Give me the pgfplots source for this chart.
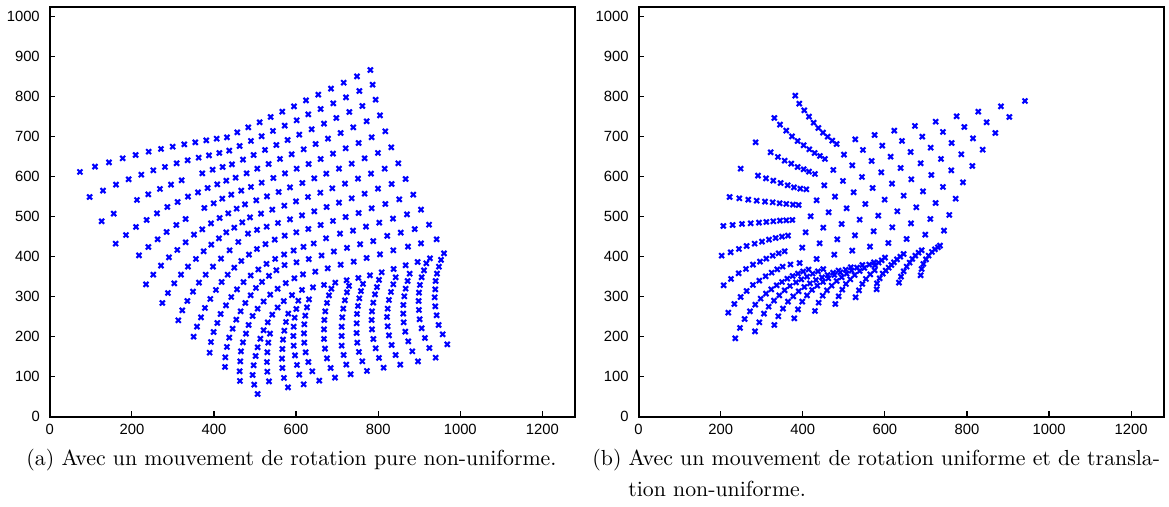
\documentclass[border=0pt]{standalone}
\usepackage{fontspec}
\setsansfont{Liberation Sans}
\usepackage{pgfplots}
\pgfplotsset{compat=1.18}
\pgfplotsset{
  panel/.style={
    scale only axis, width=262.7pt, height=204.8pt,
    xmin=0, xmax=1280, ymin=0, ymax=1024,
    xtick={0,200,...,1200}, ytick={0,100,...,1000},
    tick align=inside, tick pos=left,
    major tick length=2.6pt,
    axis line style={line width=1.1pt},
    every tick/.style={black, line width=0.6pt},
    ticklabel style={font=\sffamily\fontsize{7.4}{8}\selectfont},
    /pgf/number format/assume math mode=true,
    /pgf/number format/1000 sep={},
    yticklabel style={xshift=-1.5pt},
    clip=false,
  },
  pts/.style={only marks, mark=x, mark size=1.75pt, line width=1.05pt, color={rgb,1:red,0;green,0;blue,1}},
}
\begin{document}
\begin{tikzpicture}
\useasboundingbox (0,0) rectangle (584.5pt,253.5pt);
% ---------------- left panel ----------------
\begin{axis}[panel, at={(24.9pt,45.15pt)}, anchor=south west]
\addplot[pts] coordinates {
% R1
(73.5,611.8)(110.1,625.1)(144.2,635.9)(177.5,645.9)(209.1,654.3)(240.8,662.6)(270.9,669.3)(299.3,675.1)(327.7,680.9)(354.5,685.9)(381.3,690.9)(406.5,695.1)(431.6,698.4)(456.8,710.9)(483.6,723.4)(511.3,736.0)(538.1,749.3)(566.5,762.6)(594.9,775.9)(624.1,790.9)(654.2,805.1)(685.0,820.1)(715.9,835.1)(748.4,850.9)(780.9,866.7)
% R2
(97.1,549.3)(129.6,565.1)(161.2,580.1)(192.1,593.4)(223.0,605.1)(252.2,615.9)(280.6,624.3)(309.0,633.4)(335.8,640.9)(362.6,647.6)(387.8,653.4)(413.0,659.3)(437.3,665.1)(462.5,676.8)(490.1,689.3)(516.1,701.0)(543.7,714.3)(572.2,727.6)(601.4,740.9)(629.8,755.9)(659.9,769.3)(690.7,783.4)(721.6,798.4)(754.1,814.2)(786.5,830.1)
% R3
(126.3,488.4)(155.6,507.6)(212.4,541.8)(240.0,555.9)(268.4,569.3)(295.2,580.1)(321.2,590.9)(371.5,608.4)(396.7,617.6)(421.1,624.3)(443.8,630.9)(470.6,642.6)(496.6,654.2)(524.3,666.8)(551.9,679.3)(579.5,691.8)(607.9,705.1)(637.9,718.4)(668.0,732.6)(698.0,746.8)(729.7,761.8)(761.4,776.7)(793.8,792.6)
% R4
(160.4,432.6)(185.6,454.2)(210.0,474.3)(236.0,491.8)(261.1,508.4)(286.3,524.3)(311.5,536.7)(336.6,550.1)(361.0,560.9)(384.5,571.8)(408.1,580.9)(430.0,590.1)(452.7,597.6)(479.5,608.4)(505.6,620.1)(533.2,631.8)(560.8,644.3)(589.2,655.9)(618.5,668.4)(647.7,681.8)(677.7,695.1)(708.6,709.3)(739.4,723.4)(771.9,738.4)(804.4,753.4)
% R5
(217.3,403.4)(240.0,424.2)(262.7,443.4)(284.7,461.7)(308.2,479.3)(331.0,494.3)(376.4,521.8)(399.2,533.4)(420.3,545.1)(442.2,555.1)(466.5,565.1)(490.1,574.3)(516.1,585.1)(544.6,596.8)(573.0,608.4)(601.4,620.1)(630.6,631.8)(659.9,644.3)(689.9,657.6)(720.8,670.9)(752.4,684.3)(784.1,698.4)(817.4,713.4)
% R6
(234.3,330.9)(252.2,355.1)(270.9,377.6)(290.3,398.4)(310.6,416.8)(330.9,435.9)(351.2,455.1)(371.5,468.4)(392.7,483.4)(413.8,496.8)(434.9,508.4)(455.2,520.1)(475.5,530.9)(503.1,540.9)(529.1,550.9)(557.6,561.8)(585.2,573.4)(615.2,584.3)(644.4,595.9)(673.7,607.6)(704.5,620.1)(735.4,632.6)(767.0,645.9)(799.5,659.3)(832.0,673.4)
% R7
(274.1,284.3)(287.9,309.2)(303.3,333.4)(319.6,355.1)(336.6,375.1)(356.1,394.3)(374.8,413.4)(393.5,430.1)(412.1,445.9)(430.0,460.9)(449.5,472.6)(469.0,485.9)(487.7,498.4)(514.5,507.6)(542.1,517.6)(571.4,527.6)(599.8,538.4)(629.0,549.3)(659.1,560.1)(688.3,570.9)(719.1,582.6)(750.8,595.1)(782.5,607.6)(815.8,620.1)(849.1,633.4)
% R8
(313.1,240.9)(322.8,265.9)(335.0,289.3)(348.8,312.6)(363.4,335.1)(379.7,355.1)(397.5,375.1)(417.0,395.1)(438.1,415.9)(459.2,436.8)(482.8,457.6)(505.0,467.0)(528.3,475.1)(555.9,484.3)(585.2,493.4)(614.4,503.4)(644.4,513.4)(674.5,524.3)(704.5,535.1)(735.4,545.9)(767.0,557.6)(799.5,570.1)(832.8,581.8)(866.9,594.3)
% R9
(350.4,200.1)(358.6,225.1)(368.3,248.4)(378.0,271.8)(391.0,294.3)(404.8,316.8)(418.6,336.8)(433.3,355.1)(449.5,372.6)(466.5,389.2)(485.2,405.1)(504.7,419.2)(525.5,431.5)(548.0,442.5)(572.2,452.6)(600.6,460.9)(629.8,469.3)(659.9,479.3)(689.9,489.3)(720.8,499.3)(752.4,509.3)(784.1,520.9)(817.4,531.8)(851.5,543.4)(885.6,555.1)
% R10
(389.4,160.1)(392.7,186.7)(399.2,211.8)(408.1,234.3)(416.2,256.8)(429.2,278.4)(442.1,299.2)(456.0,318.4)(472.0,336.5)(489.5,353.0)(508.0,368.0)(528.0,382.0)(549.0,394.5)(571.0,405.5)(594.0,415.5)(618.0,424.5)(643.0,433.0)(673.0,446.0)(707.0,457.6)(738.6,465.1)(770.3,475.1)(802.8,485.1)(836.1,495.1)(870.2,505.9)(904.3,517.6)
% R11
(426.8,124.3)(427.6,148.4)(431.6,174.3)(437.3,197.6)(445.4,220.1)(454.4,242.6)(464.9,263.4)(476.3,284.3)(489.3,303.4)(502.3,321.8)(517.0,337.0)(534.0,352.0)(552.0,366.0)(572.0,379.0)(601.0,386.0)(631.0,394.0)(662.0,403.0)(692.0,413.0)(724.0,422.0)(756.0,431.0)(788.0,439.0)(822.0,452.0)(855.0,460.0)(889.0,469.0)(924.0,480.0)
% R12
(463.3,89.3)(462.5,113.4)(464.1,138.4)(465.7,163.4)(470.6,185.9)(477.9,207.6)(484.4,229.3)(494.2,251.8)(506.3,270.1)(521.0,288.0)(537.0,305.0)(555.0,320.0)(575.0,334.0)(596.0,346.0)(616.8,355.9)(646.9,362.6)(677.0,370.9)(708.6,380.0)(740.3,387.6)(771.9,396.8)(804.4,405.9)(836.9,415.9)(872.6,425.1)(904.3,433.4)(942.4,443.4)
% R13
(506.3,56.8)(498.0,80.0)(494.2,104.3)(496.6,128.4)(501.5,151.8)(506.3,173.4)(513.0,195.0)(521.0,216.0)(531.0,236.0)(542.0,255.0)(555.0,273.0)(570.0,289.0)(590.0,304.0)(614.4,316.8)(641.2,323.4)(668.0,329.3)(695.6,335.1)(723.2,340.9)(751.6,346.8)(780.0,353.4)(808.5,360.9)(837.7,369.3)(866.9,378.4)(896.2,386.8)(926.2,396.0)(960.3,408.4)
% lower columns
(953.0,392.0)(948.0,375.0)(943.3,357.6)(940.0,339.2)(939.2,318.4)(937.6,298.4)(939.2,275.9)(942.4,253.4)(947.3,229.3)(957.1,205.9)(968.4,180.9)
(940.0,147.6)(924.6,171.7)(914.0,196.7)(905.9,220.9)(901.0,243.4)(899.4,266.8)(898.6,289.3)(899.4,310.1)(901.8,329.3)(905.9,348.4)(911.6,365.9)(917.3,383.4)
(897.0,138.4)(883.2,163.4)(873.4,188.4)(866.1,212.6)(862.1,235.9)(861.2,257.6)(861.2,279.3)(863.7,300.9)(866.9,320.1)(871.8,339.2)(876.7,357.6)
(853.9,130.1)(842.6,154.3)(832.8,179.3)(826.3,203.4)(823.1,225.9)(821.5,249.3)(823.1,270.1)(826.3,291.8)(831.2,311.8)(836.9,330.9)(842.6,348.4)
(813.3,122.6)(802.0,146.8)(793.9,170.9)(788.2,194.3)(784.9,218.4)(784.1,241.8)(784.9,263.4)(788.2,285.1)(792.2,305.9)(797.0,324.0)(802.0,342.0)
(772.7,114.3)(761.4,138.4)(753.2,161.8)(749.2,185.1)(747.6,209.3)(747.6,233.4)(748.4,256.8)(750.8,276.8)(754.0,296.0)(758.0,314.0)(763.0,332.0)
(732.9,106.0)(722.4,130.2)(715.9,154.4)(711.0,177.6)(711.0,201.8)(711.0,225.0)(712.6,248.4)(715.0,270.0)(719.0,291.0)(724.0,311.0)(729.0,327.0)
(694.8,97.6)(684.2,121.8)(675.3,145.9)(670.4,170.1)(668.0,194.3)(668.0,218.4)(668.8,241.8)(671.2,263.4)(675.3,284.3)(680.2,303.4)(686.0,320.0)
(656.6,90.1)(639.6,113.4)(629.8,136.7)(623.3,160.9)(620.1,185.1)(619.3,208.4)(620.1,230.9)(622.5,252.6)(626.6,273.4)(631.4,293.4)
(618.5,80.9)(607.9,105.1)(602.2,129.3)(597.3,153.4)(594.1,177.6)(593.3,201.8)(594.1,225.1)(596.5,247.6)(600.6,269.3)(605.5,290.1)
(580.3,73.4)(570.5,96.8)(566.5,121.8)(565.7,145.1)(566.5,169.3)(568.1,192.6)(571.4,215.1)(575.4,236.8)(581.1,257.6)
(534.0,88.4)(530.0,112.6)(529.1,136.7)(530.0,160.9)(532.4,185.1)(536.4,207.6)
};
\end{axis}
% ---------------- right panel ----------------
\begin{axis}[panel, at={(319.3pt,45.15pt)}, anchor=south west]
\addplot[pts] coordinates {
% line a + row 1
(381.8,802.6)(391.5,782.6)(403.7,765.9)(415.1,750.1)(426.4,735.1)(437.8,721.8)(449.2,710.1)(460.5,700.1)(471.9,690.1)(482.5,681.8)
(527.9,693.4)(575.0,704.3)(623.0,715.1)(673.3,726.8)(723.7,737.6)(774.8,750.9)(827.6,762.6)(882.8,775.9)(941.3,789.3)
% line b + row 2
(330.6,746.8)(344.4,730.1)(359.8,715.1)(373.6,700.9)(387.4,689.3)(402.1,678.4)(415.9,668.4)(428.9,659.3)(441.9,651.8)(454.0,644.3)
(500.3,655.1)(546.6,666.8)(593.7,677.6)(641.7,689.3)(691.2,700.1)(741.5,711.8)(793.5,724.3)(847.9,735.9)(903.1,749.3)
% line c + row 3
(285.1,685.9)(321.7,660.9)(339.5,649.3)(355.8,640.1)(372.0,632.6)(387.4,624.3)(402.1,618.4)(415.1,612.6)(429.7,606.8)
(474.3,616.8)(520.6,628.4)(567.7,639.3)(614.0,650.1)(662.8,661.8)(711.5,672.6)(762.6,684.3)(814.6,695.9)(869.0,709.3)
% line d + row 4
(248.6,620.1)(290.8,602.6)(310.3,595.9)(328.2,590.1)(346.0,584.3)(363.1,578.4)(378.5,573.4)(394.0,570.1)(408.6,568.4)
(452.4,578.4)(497.9,589.3)(544.2,599.3)(591.3,610.9)(638.4,621.8)(687.1,633.4)(736.7,644.3)(786.2,655.9)(838.2,667.6)
% line e + row 5
(221.8,549.3)(245.4,545.9)(267.3,542.6)(287.6,540.1)(307.9,537.6)(326.6,535.9)(343.6,533.4)(359.8,531.8)(376.1,530.1)(389.9,529.3)
(433.7,540.9)(478.4,550.1)(523.9,560.9)(570.2,571.8)(617.3,582.6)(664.4,593.4)(713.1,604.3)(761.8,615.9)(813.0,626.8)
% line f + row 6
(206.4,476.8)(229.1,479.3)(251.9,481.8)(273.0,483.4)(293.3,485.1)(311.1,486.8)(328.2,488.4)(344.4,490.1)(359.8,490.9)(374.5,491.8)
(419.1,500.9)(463.0,510.9)(506.8,520.9)(552.3,531.8)(599.4,542.6)(645.7,552.6)(692.8,563.4)(741.5,574.3)(790.2,585.9)
% line g + row 7
(202.3,402.6)(224.2,410.9)(244.5,419.3)(263.2,426.8)(282.7,432.6)(300.6,437.6)(317.6,442.6)(333.9,446.8)(349.3,450.1)(363.9,452.6)
(406.9,460.9)(450.0,472.6)(494.6,481.8)(538.5,492.6)(584.0,502.6)(630.3,513.4)(676.6,523.4)(723.7,534.3)(772.4,545.1)
% line h + row 8
(207.2,328.4)(225.1,344.3)(243.7,358.4)(261.6,369.3)(278.6,380.1)(295.7,387.6)(311.1,395.1)(326.6,402.6)(341.2,408.4)(355.8,413.4)
(398.8,422.6)(441.0,433.4)(484.1,443.4)(527.1,453.4)(572.6,463.4)(618.1,473.4)(663.6,483.4)(710.7,494.3)(756.9,504.3)
% line i + row 9
(218.6,260.1)(233.2,281.8)(248.6,299.3)(263.2,314.3)(278.6,329.3)(294.1,340.1)(309.5,350.9)(324.1,360.1)(337.9,368.4)(350.9,375.1)(370.0,380.5)
(392.3,384.3)(433.7,394.3)(476.8,405.1)(520.6,415.1)(563.7,425.1)(608.4,434.3)(653.0,444.3)(698.5,455.1)(744.0,465.1)
% lower arcs
(235.6,195.9)(247.0,221.8)(258.3,244.3)(271.3,263.4)(284.3,280.1)(297.3,295.1)(310.3,307.6)(323.3,318.4)(336.3,328.4)(349.3,336.8)(362.3,345.1)(375.3,351.8)(388.3,357.6)(401.0,363.0)(414.0,368.0)
(283.5,213.4)(294.1,235.9)(305.4,257.6)(316.8,275.1)(329.8,290.1)(342.8,303.4)(355.8,315.9)(368.8,326.8)(383.4,335.9)(396.4,343.4)(410.2,350.1)(424.0,357.6)(437.0,363.5)(450.0,369.0)
(330.6,229.3)(340.4,250.9)(351.7,270.1)(363.9,287.6)(376.9,300.9)(389.9,313.4)(403.7,324.3)(417.5,333.4)(432.1,341.8)(446.7,348.4)(460.5,354.3)(474.0,360.0)(487.0,365.5)
(379.3,245.9)(388.3,268.4)(398.8,287.6)(410.2,303.4)(422.4,316.8)(435.4,327.6)(449.2,336.8)(462.2,345.9)(476.8,354.3)(491.4,360.9)(504.4,367.6)(517.0,373.5)
(429.7,264.3)(438.6,285.1)(448.4,302.6)(458.9,315.9)(470.3,327.6)(482.5,339.3)(494.6,348.4)(506.8,357.6)(519.0,365.1)(532.0,372.6)(545.0,379.3)
(479.2,281.8)(487.3,300.9)(496.3,317.6)(505.2,331.8)(515.8,343.4)(526.3,354.3)(538.5,364.3)(549.9,371.8)(562.0,380.1)(573.4,385.9)
(528.7,298.4)(536.9,315.9)(545.0,331.8)(553.9,344.3)(564.5,355.9)(575.0,365.9)
(575.9,378.4)(584.8,385.1)(592.1,390.9)(600.2,397.6)
(579.9,318.4)(580.8,333.4)(587.2,345.9)(594.6,357.6)(601.9,365.1)(609.2,372.6)(615.7,379.3)(622.2,386.0)(629.5,393.4)(637.6,400.1)(645.7,406.8)
(634.3,335.1)(639.2,350.1)(645.7,363.4)(653.0,375.1)(660.3,385.1)(666.8,394.3)(674.1,402.6)(682.2,410.1)(689.6,416.0)
(687.1,353.4)(689.6,369.3)(693.6,381.8)(700.1,393.4)(706.6,402.6)(714.7,411.8)(722.0,418.4)(729.3,423.4)(734.2,427.6)
};
\end{axis}
% ---------------- captions ----------------
\begingroup
\fontsize{10.9}{13}\selectfont
\node[anchor=base west, inner sep=0] at (13pt,20.5pt) {(a) Avec un mouvement de rotation pure non-uniforme.};
\node[anchor=base west, inner sep=0] at (296pt,20.5pt) {(b) Avec un mouvement de rotation uniforme et de transla-};
\node[anchor=base west, inner sep=0] at (314pt,5pt) {tion non-uniforme.};
\endgroup
\end{tikzpicture}
\end{document}
